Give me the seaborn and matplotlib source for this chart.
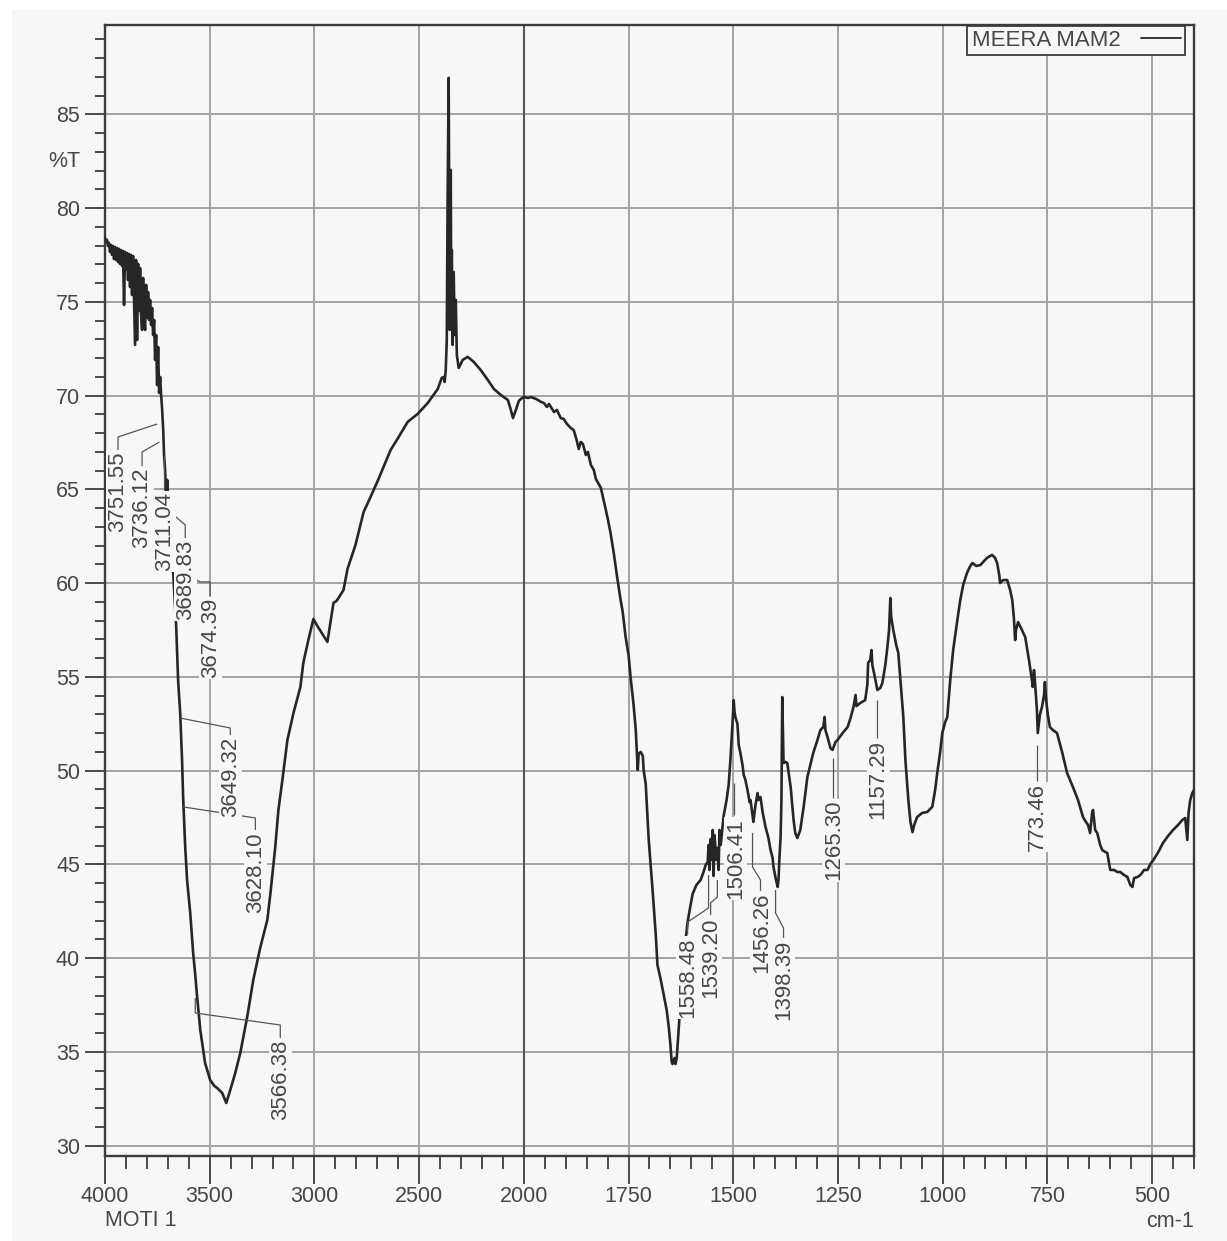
import numpy as np
import pandas as pd
import matplotlib
matplotlib.use("Agg")
import matplotlib.pyplot as plt
import matplotlib.transforms as mtransforms
from matplotlib.patches import Rectangle
from matplotlib.lines import Line2D
from matplotlib.ticker import FixedLocator, FixedFormatter
import seaborn as sns

# ---------------------------------------------------------------- spectrum
wavenumber = [
    4000, 3995.2, 3990.4, 3985.6, 3980.9, 3976.1, 3971.3, 3966.5, 3961.7, 3956.9,
    3952.2, 3947.4, 3942.6, 3937.8, 3933.0, 3928.2, 3923.4, 3918.7, 3913.9, 3909.1,
    3904.3, 3899.5, 3894.7, 3890.0, 3885.2, 3880.4, 3875.6, 3870.8, 3866.0, 3861.2,
    3856.5, 3851.7, 3846.9, 3842.1, 3837.3, 3832.5, 3827.7, 3823.0, 3818.2, 3813.4,
    3808.6, 3803.8, 3799.0, 3794.3, 3789.5, 3784.7, 3779.9, 3775.1, 3770.3, 3765.5,
    3760.8, 3756.0, 3751.2, 3746.4, 3741.6, 3736.8,
    3732, 3727, 3722, 3718, 3713, 3708, 3703,
    3699, 3694, 3689, 3684, 3679, 3675, 3670, 3660, 3651, 3641, 3632, 3627, 3617, 3608,
    3593, 3579, 3569, 3560, 3545, 3531, 3522, 3498, 3478, 3464, 3440, 3421, 3402, 3378,
    3354, 3321, 3292, 3258, 3225, 3210, 3187, 3172, 3153, 3129, 3100, 3067, 3053, 3029,
    3005, 2986, 2962, 2938, 2923, 2909, 2895, 2885, 2861, 2842, 2804, 2765, 2732, 2698,
    2636, 2603, 2555, 2507, 2459, 2411, 2392, 2383, 2378, 2373, 2368, 2364, 2359, 2357,
    2354, 2349, 2347, 2344, 2340, 2335, 2330, 2325, 2320, 2311, 2292, 2268, 2239, 2206,
    2172, 2143, 2110, 2076, 2062, 2052, 2038, 2024, 2014, 2000,
    1990, 1983, 1971, 1959, 1952, 1945, 1940, 1928, 1921, 1912, 1905, 1897, 1888, 1881,
    1874, 1869, 1864, 1859, 1852, 1847, 1840, 1833, 1828, 1816, 1807, 1800, 1793, 1785,
    1778, 1769, 1764, 1757, 1750, 1745, 1738, 1733, 1731, 1728, 1726, 1721, 1716, 1714,
    1709, 1702, 1692, 1685, 1681, 1673, 1666, 1659, 1654, 1650, 1647, 1645, 1640, 1638,
    1635, 1630, 1626, 1619, 1609, 1602, 1597, 1588, 1578, 1571, 1566, 1561, 1559, 1557,
    1554, 1552, 1549, 1547, 1545, 1540, 1538, 1535, 1533, 1530, 1523, 1516, 1511, 1507,
    1502, 1499, 1497, 1495, 1490, 1487, 1483, 1478, 1475, 1471, 1466, 1461, 1459, 1454,
    1452, 1447, 1442, 1440, 1435, 1430, 1423, 1416, 1411, 1406, 1404, 1399, 1394, 1392,
    1390, 1387, 1385, 1383, 1380, 1375, 1371, 1363, 1356, 1352, 1347, 1340, 1332, 1323,
    1316, 1309, 1299, 1292, 1285, 1282, 1280, 1275, 1268, 1263, 1256, 1251, 1239, 1227,
    1220, 1213, 1208, 1206, 1197, 1185, 1180, 1178, 1173, 1170, 1168, 1163, 1156, 1149,
    1144, 1137, 1132, 1128, 1125, 1123, 1118, 1111, 1106, 1101, 1094, 1089, 1082, 1077,
    1072, 1068, 1061, 1049, 1037, 1025, 1018, 1013, 1006, 1001, 994, 989, 982, 975,
    965, 958, 951, 942, 934, 929, 920, 910, 901, 894, 887, 882, 875, 870,
    865, 863, 856, 846, 839, 834, 830, 827, 825, 820, 813, 803, 794, 787,
    785, 782, 780, 775, 773, 768, 763, 758, 756, 753, 749, 744, 737, 727,
    715, 703, 696, 689, 677, 665, 658, 653, 648, 643, 641, 636, 631, 624,
    619, 612, 607, 600, 591, 583, 576, 567, 559, 552, 547, 543, 535, 528,
    519, 511, 504, 497, 485, 474, 462, 450, 438, 428, 421, 416, 413, 409,
    404, 400,
]

transmittance = [
    78.40, 78.19, 78.30, 77.98, 78.14, 77.66, 78.03, 77.50, 77.98, 77.28,
    77.92, 77.23, 77.87, 77.12, 77.82, 77.02, 77.76, 76.91, 77.71, 74.83,
    77.66, 76.70, 77.60, 76.16, 77.55, 75.79, 77.50, 75.36, 77.44, 74.94,
    72.70, 77.23, 72.96, 77.02, 74.51, 76.80, 74.35, 73.50, 76.27, 74.24,
    73.50, 75.90, 74.14, 75.52, 74.03, 75.10, 73.76, 74.67, 73.23, 74.03,
    71.90, 73.23, 70.56, 72.59, 70.14, 70.99,
    70.03, 69.23, 68.16, 66.83, 66.03, 64.43, 65.50,
    64.43, 63.36, 62.83, 62.03, 61.23, 60.70, 59.63, 57.66, 54.83, 53.07, 50.56, 48.59, 45.92, 44.16,
    42.40, 40.27, 39.10, 37.92, 36.16, 35.10, 34.40, 33.50, 33.18, 33.07, 32.80, 32.27, 32.96, 33.87,
    34.94, 36.86, 38.83, 40.59, 42.03, 43.47, 45.92, 47.90, 49.50, 51.63, 53.07, 54.46, 55.74, 56.96,
    58.08, 57.71, 57.28, 56.86, 57.92, 58.94, 59.04, 59.20, 59.63, 60.75, 62.03, 63.79, 64.59, 65.44,
    67.10, 67.69, 68.59, 69.02, 69.60, 70.35, 70.94, 70.99, 70.73, 71.36, 72.96, 80.43, 86.94, 81.50,
    73.50, 82.03, 75.10, 77.76, 72.70, 76.59, 73.23, 75.10, 72.16, 71.47, 71.90, 72.06, 71.79, 71.36,
    70.83, 70.35, 70.03, 69.76, 69.23, 68.80, 69.23, 69.71, 69.82, 69.92,
    69.87, 69.92, 69.82, 69.66, 69.60, 69.39, 69.55, 69.12, 69.23, 68.80, 68.75, 68.48, 68.27, 68.16,
    67.63, 67.15, 67.52, 67.42, 66.83, 66.99, 66.30, 66.03, 65.55, 65.07, 64.16, 63.47, 62.67, 61.55,
    60.43, 59.10, 58.46, 57.12, 56.16, 54.94, 53.50, 52.22, 51.36, 50.03, 50.88, 50.99, 50.78, 50.03,
    49.28, 46.35, 43.42, 41.23, 39.63, 38.83, 38.03, 37.23, 36.32, 35.36, 34.46, 34.35, 34.67, 34.35,
    34.67, 36.32, 37.76, 39.95, 41.92, 42.83, 43.42, 43.90, 44.16, 44.59, 44.96, 45.12, 46.03, 44.70,
    46.35, 45.23, 46.83, 44.38, 46.56, 45.23, 45.87, 44.70, 46.83, 46.03, 47.58, 48.43, 49.23, 50.51,
    52.43, 53.76, 53.12, 52.86, 52.48, 51.36, 50.94, 50.30, 49.76, 49.50, 48.96, 48.32, 48.43, 47.63,
    47.26, 48.16, 48.80, 48.43, 48.59, 47.79, 46.99, 46.40, 45.76, 45.34, 44.86, 44.27, 43.79, 44.16,
    45.23, 46.46, 48.43, 53.92, 50.40, 50.46, 50.40, 49.12, 47.36, 46.67, 46.40, 46.83, 48.06, 49.66,
    50.30, 50.94, 51.63, 52.16, 52.32, 52.86, 52.16, 51.79, 51.20, 51.10, 51.52, 51.63, 52.00, 52.32,
    52.80, 53.39, 54.03, 53.44, 53.60, 53.76, 54.56, 55.74, 55.90, 56.43, 55.63, 55.10, 54.30, 54.40,
    54.67, 55.63, 56.59, 57.50, 59.20, 58.19, 57.50, 56.70, 56.27, 54.83, 52.86, 50.56, 48.43, 47.26,
    46.72, 47.10, 47.52, 47.74, 47.79, 48.06, 48.96, 49.87, 50.99, 52.00, 52.59, 52.86, 54.83, 56.43,
    58.03, 59.10, 59.90, 60.54, 60.91, 61.07, 60.91, 60.96, 61.18, 61.34, 61.44, 61.50, 61.34, 61.07,
    60.43, 60.00, 60.16, 60.16, 59.63, 59.10, 58.14, 56.96, 57.50, 57.92, 57.60, 57.12, 55.90, 54.83,
    54.46, 55.36, 54.83, 53.23, 52.00, 52.96, 53.39, 54.03, 54.72, 53.76, 52.96, 52.32, 52.16, 52.00,
    50.99, 49.87, 49.50, 49.12, 48.43, 47.52, 47.26, 47.10, 46.67, 47.79, 47.90, 46.83, 46.67, 46.03,
    45.76, 45.66, 45.60, 44.70, 44.70, 44.59, 44.59, 44.43, 44.32, 43.90, 43.79, 44.27, 44.32, 44.43,
    44.70, 44.70, 45.02, 45.23, 45.66, 46.14, 46.51, 46.83, 47.10, 47.36, 47.47, 46.30, 47.74, 48.43,
    48.80, 48.96,
]

sample_name = "MEERA MAM2"

# ---------------------------------------------------------------- peak picks
peak_labels = ["3751.55", "3736.12", "3711.04", "3689.83", "3674.39", "3649.32",
               "3628.10", "3566.38", "1558.48", "1539.20", "1506.41", "1456.26",
               "1398.39", "1265.30", "1157.29", "773.46"]

# leader polylines (cm-1, %T) running from the band down to the label
leader_paths = [
    [(3751, 68.48), (3938, 67.79), (3938, 67.10)],
    [(3740, 67.52), (3823, 66.99), (3823, 66.24)],
    [(3716, 66.83), (3716, 64.96)],
    [(3689, 63.79), (3617, 63.10), (3617, 62.40)],
    [(3675, 60.70), (3545, 60.06), (3498, 60.06), (3498, 59.31)],
    [(3641, 52.80), (3402, 52.27), (3402, 51.90)],
    [(3627, 48.06), (3282, 47.47), (3282, 46.83)],
    [(3569, 37.87), (3569, 37.07), (3163, 36.43), (3163, 35.74)],
    [(1559, 44.43), (1559, 42.67), (1609, 41.92), (1609, 41.28)],
    [(1538, 44.16), (1538, 43.26), (1554, 42.94), (1554, 42.30)],
    [(1499, 49.34), (1499, 47.63)],
    [(1454, 46.67), (1454, 44.86), (1435, 44.16), (1435, 43.58)],
    [(1399, 43.63), (1399, 42.40), (1380, 41.60), (1380, 41.07)],
    [(1263, 50.67), (1263, 48.54)],
    [(1158, 53.76), (1158, 51.74)],
    [(775, 51.36), (775, 49.44)],
]
# label centre (cm-1) and top edge (%T)
label_anchor = [(3938, 66.99), (3823, 66.14), (3716, 64.86), (3617, 62.30),
                (3498, 59.20), (3402, 51.79), (3282, 46.72), (3163, 35.63),
                (1609, 41.12), (1554, 42.14), (1495, 47.47), (1433, 43.47),
                (1380, 40.96), (1261, 48.43), (1154, 51.63), (773, 49.34)]

major_x = [4000, 3500, 3000, 2500, 2000, 1750, 1500, 1250, 1000, 750, 500]
minor_x = ([w for w in range(3900, 2000, -100) if w % 500] +
           [w for w in range(1950, 399, -50) if w % 250])
major_y = list(range(30, 90, 5))
minor_y = list(range(30, 90, 1))


# x axis: 4000-2000 at half the density of 2000-400
def _fwd(x):
    x = np.asarray(x, dtype=float)
    return np.where(x > 2000, 2000 + (x - 2000) / 2.0, x)


def _inv(u):
    u = np.asarray(u, dtype=float)
    return np.where(u > 2000, 2000 + (u - 2000) * 2.0, u)


# ---------------------------------------------------------------- styling
sns.set_theme(style="white")
plt.rcParams["font.family"] = ["Liberation Sans", "DejaVu Sans"]

BG = "#f7f7f7"
FRAME = "#3c3c3c"
TXT = "#474747"
INK = "#262626"

W, H = 1227, 1241
fig = plt.figure(figsize=(W / 100, H / 100), dpi=100, facecolor="white")
fig.patches.append(Rectangle((12 / W, 0), 1 - 12 / W, 1 - 10 / H,
                             transform=fig.transFigure, facecolor=BG,
                             edgecolor="none", zorder=-10))
ax = fig.add_axes([105 / W, 1 - 1155.7 / H, (1194 - 105) / W, (1155.7 - 25) / H])
ax.set_zorder(1)
ax.set_facecolor(BG)

df = pd.DataFrame({"wavenumber": wavenumber, "transmittance": transmittance})
sns.lineplot(data=df, x="wavenumber", y="transmittance", sort=False, estimator=None,
             color=INK, lw=1.9, ax=ax, legend=False, zorder=3)

ax.set_xscale("function", functions=(_fwd, _inv))
ax.set_xlim(4000, 400)
ax.set_ylim(29.46, 89.76)

ax.xaxis.set_major_locator(FixedLocator(major_x))
ax.xaxis.set_major_formatter(FixedFormatter([str(v) for v in major_x]))
ax.xaxis.set_minor_locator(FixedLocator(minor_x))
ax.yaxis.set_major_locator(FixedLocator(major_y))
ax.yaxis.set_major_formatter(FixedFormatter([str(v) for v in major_y]))
ax.yaxis.set_minor_locator(FixedLocator(minor_y))

ax.tick_params(axis="x", which="major", direction="out", length=20, width=1.3,
               color=FRAME, pad=1.5, labelsize=15.5, labelcolor=TXT,
               bottom=True)
ax.tick_params(axis="x", which="minor", direction="out", length=9.5, width=1.3,
               color=FRAME, bottom=True)
ax.tick_params(axis="y", which="major", direction="out", length=14.4, width=1.3,
               color=FRAME, pad=3.6, labelsize=15.5, labelcolor=TXT, left=True)
ax.tick_params(axis="y", which="minor", direction="out", length=7.2, width=1.3,
               color=FRAME, left=True)

ax.grid(True, which="major", color="#a3a3a3", lw=1.4, zorder=1)
ax.axvline(2000, color="#555555", lw=1.5, zorder=1.5)
for s in ax.spines.values():
    s.set_color(FRAME)
    s.set_linewidth(1.7)
ax.set_xlabel("")
ax.set_ylabel("")

ax.text(-0.037, 82.46, "%T", transform=mtransforms.blended_transform_factory(ax.transAxes, ax.transData),
        ha="center", va="center", fontsize=15.5, color=TXT)
ax.text(0.0, -0.0575, "MOTI 1", transform=ax.transAxes, ha="left", va="center",
        fontsize=15.5, color=TXT)
ax.text(1.0, -0.0585, "cm-1", transform=ax.transAxes, ha="right", va="center",
        fontsize=15.5, color=TXT)

# peak annotations
for lab, path, (tx, ty) in zip(peak_labels, leader_paths, label_anchor):
    xs, ys = zip(*path)
    ax.plot(xs, ys, color="#555555", lw=0.9, zorder=4, solid_capstyle="butt")
    ax.text(tx, ty, lab, rotation=90, ha="center", va="top", fontsize=16,
            color=TXT, zorder=5,
            bbox=dict(facecolor=BG, edgecolor="none", pad=0.8))

handle = Line2D([], [], color=INK, lw=1.3)
leg = ax.legend([handle], [sample_name], loc="upper right",
                bbox_to_anchor=(0.9917, 0.9995), markerfirst=False, fancybox=False,
                framealpha=1, facecolor=BG, edgecolor=FRAME, fontsize=16,
                borderpad=0.2, handlelength=1.8, handletextpad=0.9,
                borderaxespad=0)
leg.get_frame().set_linewidth(1.3)
for t in leg.get_texts():
    t.set_color(TXT)

fig.savefig("out.png", dpi=100, facecolor="white")
